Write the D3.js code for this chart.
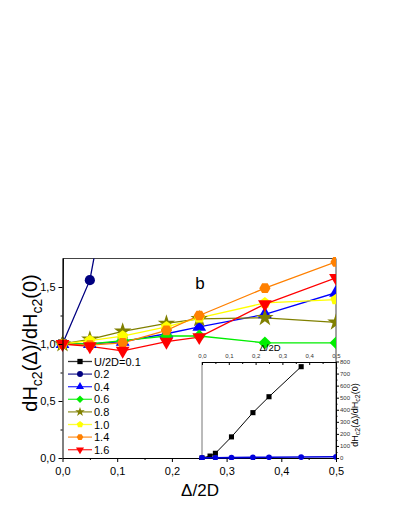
<!DOCTYPE html>
<html>
<head>
<meta charset="utf-8">
<script src="https://cdn.jsdelivr.net/npm/d3@7"></script>
<style>
  body { margin: 0; background: #fff; }
  svg { font-family: "Liberation Sans", Arial, sans-serif; }
</style>
</head>
<body>
<div id="chart"></div>
<script>
// data
var delta = [0, 0.05, 0.11, 0.19, 0.25, 0.37, 0.5];
var deltaU01 = [0, 0.03, 0.05, 0.11, 0.19, 0.25, 0.37];
var seriesNames = ["U/2D=0.1", "0.2", "0.4", "0.6", "0.8", "1.0", "1.4", "1.6"];
var u01 = [1, 16, 39, 175, 376, 508, 757];
var u02 = [1, 1.56, 3.1, 5, 6, 8, 10];
var u04 = [1, 1.0, 1.02, 1.09, 1.15, 1.26, 1.45];
var u06 = [1, 1.0, 1.03, 1.07, 1.07, 1.01, 1.01];
var u08 = [1, 1.04, 1.11, 1.18, 1.22, 1.23, 1.19];
var u10 = [1, 1.03, 1.07, 1.15, 1.23, 1.36, 1.39];
var u14 = [1, 0.99, 1.01, 1.12, 1.25, 1.49, 1.72];
var u16 = [1, 0.98, 0.94, 1.02, 1.06, 1.35, 1.58];
var mainTicksY = [0, 0.5, 1.0, 1.5];
var mainTicksX = [0, 0.1, 0.2, 0.3, 0.4, 0.5];
var insetTicksY = [0, 100, 200, 300, 400, 500, 600, 700, 800];

var w = 399, h = 516;

// polygon symbol with n corners
function polygon(n, rot) {
  return {
    draw: function(ctx, size) {
      var r = Math.sqrt(size / (n / 2 * Math.sin(2 * Math.PI / n)));
      for (var i = 0; i < n; i++) {
        var a = rot + i * 2 * Math.PI / n;
        if (i === 0) ctx.moveTo(r * Math.cos(a), r * Math.sin(a));
        else ctx.lineTo(r * Math.cos(a), r * Math.sin(a));
      }
      ctx.closePath();
    }
  };
}
var triDown = polygon(3, Math.PI / 2);

var series = [
  {name: seriesNames[0], x: deltaU01, v: u01, color: "#000000", sym: d3.symbolSquare},
  {name: seriesNames[1], x: delta, v: u02, color: "#000080", sym: d3.symbolCircle},
  {name: seriesNames[2], x: delta, v: u04, color: "#0000ff", sym: d3.symbolTriangle},
  {name: seriesNames[3], x: delta, v: u06, color: "#00ee00", sym: polygon(4, 0)},
  {name: seriesNames[4], x: delta, v: u08, color: "#808000", sym: d3.symbolStar},
  {name: seriesNames[5], x: delta, v: u10, color: "#ffff00", sym: polygon(5, -Math.PI / 2)},
  {name: seriesNames[6], x: delta, v: u14, color: "#ff8000", sym: polygon(6, 0)},
  {name: seriesNames[7], x: delta, v: u16, color: "#ff0000", sym: triDown}
];

var svg = d3.select("#chart").append("svg")
  .attr("width", w)
  .attr("height", h);

var x = d3.scaleLinear().domain([0, 0.5]).range([62.5, 336]);
var y = d3.scaleLinear().domain([0, 1.75]).range([458, 258.5]);

var defs = svg.append("defs");
defs.append("clipPath").attr("id", "plotclip").append("rect")
  .attr("x", 62.5).attr("y", 258.5).attr("width", 336 - 62.5).attr("height", 458 - 258.5);
defs.append("clipPath").attr("id", "markclip").append("rect")
  .attr("x", 0).attr("y", 250).attr("width", 336).attr("height", 210);

// frame on top and right
svg.append("path")
  .attr("d", "M62.5,258.5H336V458")
  .attr("fill", "none").attr("stroke", "#444").attr("stroke-width", 1);

var line = d3.line()
  .x(function(d) { return x(d[0]); })
  .y(function(d) { return y(d[1]); });

var plotLines = svg.append("g").attr("clip-path", "url(#plotclip)");
var plotMarks = svg.append("g").attr("clip-path", "url(#markclip)");

series.forEach(function(s) {
  var pts = s.x.map(function(d, i) { return [d, s.v[i]]; });
  plotLines.append("path")
    .datum(pts)
    .attr("d", line)
    .attr("fill", "none")
    .attr("stroke", s.color)
    .attr("stroke-width", 1.3);
  plotMarks.selectAll(null)
    .data(pts.filter(function(d) { return d[1] <= 1.75; }))
    .enter()
    .append("path")
    .attr("transform", function(d) { return "translate(" + x(d[0]) + "," + y(d[1]) + ")"; })
    .attr("d", d3.symbol().type(s.sym).size(s.sym === d3.symbolStar ? 95 : 82))
    .attr("fill", s.color);
});

// axes
var xAxis = svg.append("g")
  .attr("transform", "translate(0,458)")
  .call(d3.axisBottom(x).tickValues(mainTicksX).tickSize(4).tickSizeOuter(0)
    .tickFormat(function(d) { return d3.format(".1f")(d).replace(".", ","); }));
xAxis.selectAll("text").style("font-size", "11px").attr("dy", "0.9em");
svg.append("g")
  .attr("transform", "translate(0,458)")
  .call(d3.axisBottom(x).tickValues(d3.range(0.05, 0.5, 0.1)).tickSize(2).tickFormat(""))
  .select(".domain").remove();

var yAxis = svg.append("g")
  .attr("transform", "translate(62.5,0)")
  .call(d3.axisLeft(y).tickValues(mainTicksY).tickSize(4).tickSizeOuter(0)
    .tickFormat(function(d) { return d3.format(".1f")(d).replace(".", ","); }));
yAxis.selectAll("text").style("font-size", "11px");
svg.append("g")
  .attr("transform", "translate(62.5,0)")
  .call(d3.axisLeft(y).tickValues([0.25, 0.75, 1.25]).tickSize(2).tickFormat(""))
  .select(".domain").remove();

// axis titles
svg.append("text")
  .attr("x", 200).attr("y", 496)
  .attr("text-anchor", "middle")
  .style("font-size", "17px")
  .text("\u0394/2D");

var yt = svg.append("text")
  .attr("transform", "translate(37,343) rotate(-90)")
  .attr("text-anchor", "middle")
  .style("font-size", "20px");
yt.append("tspan").text("dH");
yt.append("tspan").attr("dy", 5).style("font-size", "14px").text("c2");
yt.append("tspan").attr("dy", -5).text("(\u0394)/dH");
yt.append("tspan").attr("dy", 5).style("font-size", "14px").text("c2");
yt.append("tspan").attr("dy", -5).text("(0)");

svg.append("text")
  .attr("x", 200).attr("y", 289)
  .attr("text-anchor", "middle")
  .style("font-size", "17px")
  .text("b");

// legend
var leg = svg.append("g");
series.forEach(function(s, i) {
  var ly = 361.5 + i * 12.6;
  leg.append("line")
    .attr("x1", 68).attr("x2", 92).attr("y1", ly).attr("y2", ly)
    .attr("stroke", s.color).attr("stroke-width", 1.3).attr("opacity", 0.8);
  leg.append("path")
    .attr("transform", "translate(80," + ly + ")")
    .attr("d", d3.symbol().type(s.sym).size(28))
    .attr("fill", s.color);
  leg.append("text")
    .attr("x", 94).attr("y", ly + 4)
    .style("font-size", "11px")
    .text(s.name);
});

// inset
var xi = d3.scaleLinear().domain([0, 0.5]).range([202, 336]);
var yi = d3.scaleLinear().domain([0, 800]).range([458, 361.5]);

svg.append("line")
  .attr("x1", 202).attr("x2", 202).attr("y1", 362).attr("y2", 458)
  .attr("stroke", "#777").attr("stroke-width", 1);

var xiAxis = svg.append("g")
  .attr("transform", "translate(0,362)")
  .call(d3.axisTop(xi).tickValues(mainTicksX).tickSize(-3).tickSizeOuter(0)
    .tickFormat(function(d) { return d3.format(".1f")(d).replace(".", ","); }));
xiAxis.selectAll("text").style("font-size", "6px").attr("y", -4).attr("fill", "#333");
svg.append("g")
  .attr("transform", "translate(0,362)")
  .call(d3.axisTop(xi).tickValues(d3.range(0.05, 0.5, 0.1)).tickSize(-2).tickFormat(""))
  .select(".domain").remove();

var yiAxis = svg.append("g")
  .attr("transform", "translate(336,0)")
  .call(d3.axisRight(yi).tickValues(insetTicksY).tickSize(3).tickSizeOuter(0));
yiAxis.selectAll("text").style("font-size", "6px").attr("x", 4).attr("fill", "#333");
svg.append("g")
  .attr("transform", "translate(336,0)")
  .call(d3.axisRight(yi).tickValues(d3.range(50, 800, 100)).tickSize(1.5).tickFormat(""))
  .select(".domain").remove();

svg.append("text")
  .attr("x", 270).attr("y", 351)
  .attr("text-anchor", "middle")
  .style("font-size", "9.5px")
  .text("\u0394/2D");

var yit = svg.append("text")
  .attr("transform", "translate(358,415) rotate(-90)")
  .attr("text-anchor", "middle")
  .style("font-size", "9px");
yit.append("tspan").text("dH");
yit.append("tspan").attr("dy", 2).style("font-size", "7px").text("c2");
yit.append("tspan").attr("dy", -2).text("(\u0394)/dH");
yit.append("tspan").attr("dy", 2).style("font-size", "7px").text("c2");
yit.append("tspan").attr("dy", -2).text("(0)");

var lineI = d3.line()
  .x(function(d) { return xi(d[0]); })
  .y(function(d) { return yi(d[1]); });

var insetSeries = [
  {x: deltaU01, v: u01, color: "#000000", sym: d3.symbolSquare, lw: 1},
  {x: delta, v: u02, color: "#0000dd", sym: d3.symbolCircle, lw: 1.6}
];
insetSeries.forEach(function(s) {
  var pts = s.x.map(function(d, i) { return [d, s.v[i]]; });
  svg.append("path")
    .datum(pts)
    .attr("d", lineI)
    .attr("fill", "none")
    .attr("stroke", s.color)
    .attr("stroke-width", s.lw);
  svg.append("g").attr("clip-path", "url(#markclip)")
    .selectAll("path")
    .data(pts)
    .enter()
    .append("path")
    .attr("transform", function(d) { return "translate(" + xi(d[0]) + "," + yi(d[1]) + ")"; })
    .attr("d", d3.symbol().type(s.sym).size(26))
    .attr("fill", s.color);
});
</script>
</body>
</html>
